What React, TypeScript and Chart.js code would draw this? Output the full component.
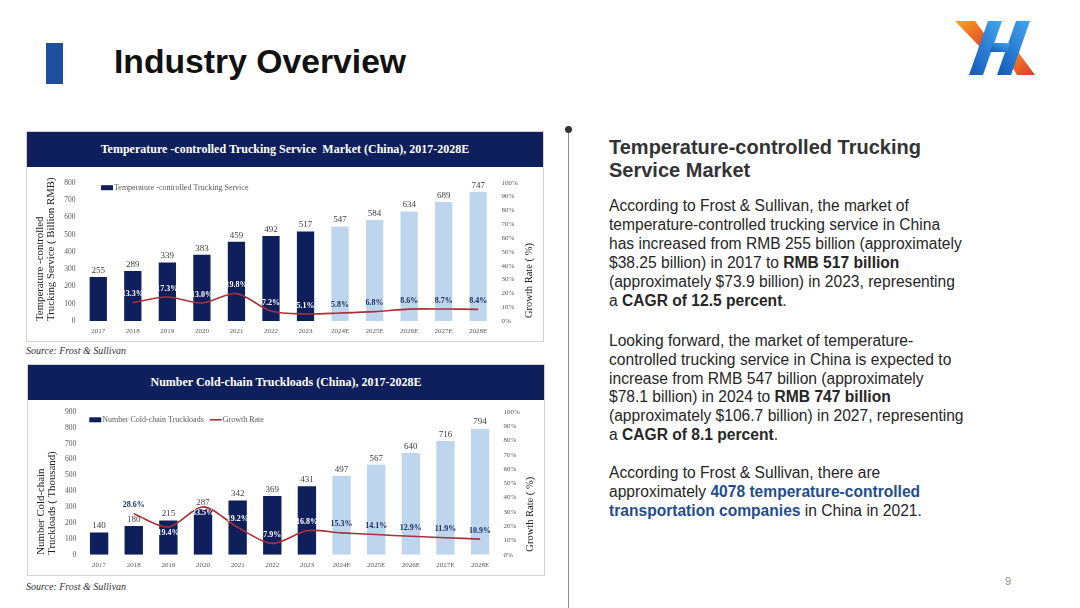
import React, { useEffect, useRef } from 'react';
import { Chart, registerables } from 'chart.js';

Chart.register(...registerables);

// ---------- DATA ----------
const YEARS = ['2017', '2018', '2019', '2020', '2021', '2022', '2023', '2024E', '2025E', '2026E', '2027E', '2028E'];
const MARKET_VALUES = [255, 289, 339, 383, 459, 492, 517, 547, 584, 634, 689, 747];
const MARKET_GROWTH = [null, 13.3, 17.3, 13.0, 19.8, 7.2, 5.1, 5.8, 6.8, 8.6, 8.7, 8.4];
const TRUCKLOAD_VALUES = [140, 180, 215, 287, 342, 369, 431, 497, 567, 640, 716, 794];
const TRUCKLOAD_GROWTH = [null, 28.6, 19.4, 33.5, 19.2, 7.9, 16.8, 15.3, 14.1, 12.9, 11.9, 10.9];
const MARKET_AXIS_MAX = 800;
const TRUCKLOAD_AXIS_MAX = 900;
const LEFT_AXIS_STEP = 100;
const RATE_AXIS_MAX = 100;
const RATE_AXIS_STEP = 10;

const SERIF = '"Liberation Serif", "Times New Roman", serif';
const SANS = '"Liberation Sans", Arial, Helvetica, sans-serif';
const NAVY = '#0E1F5C';
const LIGHT = '#BDD6EE';
const RED = '#A8323A';

type ChartCfg = {
  labels: string[];
  values: number[];
  growth: (number | null)[];
  barName: string;
  lineName: string;
  showLineLegend: boolean;
  yMax: number;
  yTitle: string[];
  leftW: number;
  rightW: number;
  padTop: number;
  xAxisH: number;
  barPct: number;
  legendDx: number;
  legendDy: number;
  belowLabels: string[];
};

const isForecast = (l: string) => l.endsWith('E');

function ComboChart({ cfg, width, height }: { cfg: ChartCfg; width: number; height: number }) {
  const ref = useRef<HTMLCanvasElement | null>(null);
  useEffect(() => {
    if (!ref.current) return;
    const overlay = {
      id: 'overlay',
      afterDatasetsDraw(chart: any) {
        const ctx = chart.ctx;
        const barMeta = chart.getDatasetMeta(0);
        const lineMeta = chart.getDatasetMeta(1);
        ctx.save();
        ctx.font = `9px ${SERIF}`;
        ctx.fillStyle = '#404040';
        ctx.textAlign = 'center';
        ctx.textBaseline = 'bottom';
        barMeta.data.forEach((el: any, i: number) => {
          ctx.fillText(String(cfg.values[i]), el.x, el.y - 2);
        });
        ctx.font = `bold 8px ${SERIF}`;
        ctx.textBaseline = 'middle';
        lineMeta.data.forEach((pt: any, i: number) => {
          const g = cfg.growth[i];
          if (g == null) return;
          const below = cfg.belowLabels.includes(cfg.labels[i]);
          const ly = below ? pt.y + 6 : pt.y - 8.5;
          const bar = barMeta.data[i];
          const inside = !isForecast(cfg.labels[i]) && ly > bar.y + 3;
          ctx.fillStyle = inside ? '#FFFFFF' : '#1B2A5E';
          ctx.fillText(g.toFixed(1) + '%', pt.x, ly);
        });
        ctx.restore();
      },
      afterDraw(chart: any) {
        const ctx = chart.ctx;
        const area = chart.chartArea;
        ctx.save();
        let x = area.left + cfg.legendDx;
        const y = area.top + cfg.legendDy;
        ctx.fillStyle = NAVY;
        ctx.fillRect(x, y - 2.5, 12, 5);
        x += 13;
        ctx.font = `8px ${SERIF}`;
        ctx.fillStyle = '#595959';
        ctx.textAlign = 'left';
        ctx.textBaseline = 'middle';
        ctx.fillText(cfg.barName, x, y);
        x += ctx.measureText(cfg.barName).width + 6;
        if (cfg.showLineLegend) {
          ctx.strokeStyle = RED;
          ctx.lineWidth = 1.6;
          ctx.beginPath();
          ctx.moveTo(x, y);
          ctx.lineTo(x + 12, y);
          ctx.stroke();
          ctx.fillText(cfg.lineName, x + 13, y);
        }
        ctx.translate(chart.width - 14.5, area.bottom - 3);
        ctx.rotate(-Math.PI / 2);
        ctx.font = `10.5px ${SERIF}`;
        ctx.fillStyle = '#222222';
        ctx.textAlign = 'left';
        ctx.textBaseline = 'middle';
        ctx.fillText('Growth Rate ( %)', 0, 0);
        ctx.restore();
      },
    };

    const tickFont = { family: SERIF, size: 7 };
    const chart = new Chart(ref.current, {
      type: 'bar',
      data: {
        labels: cfg.labels,
        datasets: [
          {
            type: 'bar',
            label: cfg.barName,
            data: cfg.values,
            backgroundColor: cfg.labels.map((l) => (isForecast(l) ? LIGHT : NAVY)),
            barPercentage: cfg.barPct,
            categoryPercentage: 1,
            yAxisID: 'y',
            order: 2,
          },
          {
            type: 'line',
            label: cfg.lineName,
            data: cfg.growth,
            borderColor: RED,
            borderWidth: 1.6,
            pointRadius: 0,
            tension: 0.3,
            yAxisID: 'y1',
            order: 1,
          },
        ],
      } as any,
      options: {
        responsive: false,
        animation: false,
        layout: { padding: { top: cfg.padTop, left: 0, right: 0, bottom: 0 } },
        plugins: { legend: { display: false }, tooltip: { enabled: false } },
        scales: {
          x: {
            grid: { display: false, drawTicks: false },
            border: { display: false },
            ticks: { font: tickFont, color: '#595959', padding: 6, autoSkip: false, maxRotation: 0 },
            afterFit: (s: any) => {
              s.height = cfg.xAxisH;
            },
          },
          y: {
            position: 'left',
            min: 0,
            max: cfg.yMax,
            ticks: { stepSize: LEFT_AXIS_STEP, font: { family: SERIF, size: 7.5 }, color: '#595959', padding: 5.5 },
            grid: { display: false, drawTicks: false },
            border: { display: false },
            title: {
              display: true,
              text: cfg.yTitle,
              align: 'start',
              color: '#222222',
              font: { family: SERIF, size: 10.8, lineHeight: 1.0 },
              padding: { top: 8, bottom: 0 },
            },
            afterFit: (s: any) => {
              s.width = cfg.leftW;
            },
          },
          y1: {
            position: 'right',
            min: 0,
            max: RATE_AXIS_MAX,
            ticks: {
              stepSize: RATE_AXIS_STEP,
              font: tickFont,
              color: '#595959',
              padding: 6,
              callback: (v: any) => v + '%',
            },
            grid: { display: false, drawTicks: false },
            border: { display: false },
            afterFit: (s: any) => {
              s.width = cfg.rightW;
            },
          },
        },
      } as any,
      plugins: [overlay],
    });
    return () => chart.destroy();
  }, [cfg]);
  return <canvas ref={ref} width={width} height={height} style={{ display: 'block', width, height }} />;
}

const marketCfg: ChartCfg = {
  labels: YEARS,
  values: MARKET_VALUES,
  growth: MARKET_GROWTH,
  barName: 'Temperature -controlled Trucking Service',
  lineName: 'Growth Rate',
  showLineLegend: false,
  yMax: MARKET_AXIS_MAX,
  yTitle: ['Temperature -controlled', 'Trucking Service ( Billion RMB)'],
  leftW: 54,
  rightW: 48.5,
  padTop: 15.7,
  xAxisH: 21,
  barPct: 0.5,
  legendDx: 20,
  legendDy: 5,
  belowLabels: [],
};

const truckCfg: ChartCfg = {
  labels: YEARS,
  values: TRUCKLOAD_VALUES,
  growth: TRUCKLOAD_GROWTH,
  barName: 'Number Cold-chain Truckloads',
  lineName: 'Growth Rate',
  showLineLegend: true,
  yMax: TRUCKLOAD_AXIS_MAX,
  yTitle: ['Number Cold-chain', 'Truckloads ( Thousand)'],
  leftW: 53.8,
  rightW: 47.6,
  padTop: 11.8,
  xAxisH: 21.3,
  barPct: 0.53,
  legendDx: 7.5,
  legendDy: 8,
  belowLabels: ['2019', '2020'],
};

function ChartBox({ left, top, width, height, title, cfg }: any) {
  return (
    <div
      style={{
        position: 'absolute',
        left,
        top,
        width,
        height,
        border: '1px solid #D3D3D3',
        boxSizing: 'border-box',
        background: '#fff',
      }}
    >
      <div
        style={{
          height: 35,
          background: NAVY,
          color: '#fff',
          fontFamily: SERIF,
          fontWeight: 'bold',
          fontSize: 12,
          lineHeight: '35px',
          textAlign: 'center',
          whiteSpace: 'pre',
        }}
      >
        {title}
      </div>
      <ComboChart cfg={cfg} width={width - 1} height={height - 36} />
    </div>
  );
}

function Logo() {
  return (
    <svg style={{ position: 'absolute', left: 955, top: 19 }} width={80} height={57} viewBox="0 0 80 57">
      <defs>
        <linearGradient id="lgBlue" x1="0" y1="1" x2="1" y2="0">
          <stop offset="0" stopColor="#1258B8" />
          <stop offset="1" stopColor="#45A6EE" />
        </linearGradient>
        <linearGradient id="lgOrange" x1="0" y1="0" x2="1" y2="1">
          <stop offset="0" stopColor="#F6A623" />
          <stop offset="1" stopColor="#E2332A" />
        </linearGradient>
      </defs>
      <polygon points="0,2 20,2 37,25 27,30" fill="url(#lgOrange)" />
      <polygon points="50,36 60,29 80,56 62,56" fill="url(#lgOrange)" />
      <polygon points="14,56 28,56 47,2 33,2" fill="url(#lgBlue)" />
      <polygon points="42,56 56,56 75,2 61,2" fill="url(#lgBlue)" />
      <polygon points="38,24 55,24 52,33 35,33" fill="url(#lgBlue)" />
    </svg>
  );
}

const bodyText: React.CSSProperties = {
  position: 'absolute',
  left: 609,
  fontFamily: SANS,
  fontSize: 15.6,
  lineHeight: '18.9px',
  color: '#262626',
  whiteSpace: 'nowrap',
};
const blue: React.CSSProperties = { color: '#1F4E8F', fontWeight: 'bold' };

export default function App() {
  return (
    <div
      style={{
        position: 'fixed',
        left: 0,
        top: 0,
        width: 1080,
        height: 608,
        background: '#FFFFFF',
        overflow: 'hidden',
      }}
    >
      <div style={{ position: 'absolute', left: 46, top: 43, width: 17, height: 41, background: '#1F4E9E' }} />
      <div
        style={{
          position: 'absolute',
          left: 114,
          top: 45,
          fontFamily: SANS,
          fontWeight: 'bold',
          fontSize: 33.7,
          lineHeight: '33.7px',
          color: '#111',
          whiteSpace: 'nowrap',
        }}
      >
        Industry Overview
      </div>
      <Logo />

      <ChartBox
        left={26}
        top={131}
        width={518}
        height={211}
        title={'Temperature -controlled Trucking Service  Market (China), 2017-2028E'}
        cfg={marketCfg}
      />
      <div style={{ position: 'absolute', left: 26, top: 345, fontFamily: SERIF, fontStyle: 'italic', fontSize: 10, lineHeight: '12px', color: '#333' }}>
        Source: Frost &amp; Sullivan
      </div>
      <ChartBox
        left={27}
        top={364}
        width={518}
        height={212}
        title={'Number Cold-chain Truckloads (China), 2017-2028E'}
        cfg={truckCfg}
      />
      <div style={{ position: 'absolute', left: 26, top: 581, fontFamily: SERIF, fontStyle: 'italic', fontSize: 10, lineHeight: '12px', color: '#333' }}>
        Source: Frost &amp; Sullivan
      </div>

      <div style={{ position: 'absolute', left: 567.6, top: 129, width: 1.4, height: 480, background: '#8A8A8A' }} />
      <div style={{ position: 'absolute', left: 565, top: 126, width: 7, height: 7, borderRadius: '50%', background: '#333' }} />

      <div
        style={{
          position: 'absolute',
          left: 609,
          top: 135.7,
          fontFamily: SANS,
          fontWeight: 'bold',
          fontSize: 20,
          lineHeight: '23.3px',
          color: '#333',
          whiteSpace: 'nowrap',
        }}
      >
        Temperature-controlled Trucking
        <br />
        Service Market
      </div>
      <div style={{ ...bodyText, top: 197.4 }}>
        According to Frost &amp; Sullivan, the market of
        <br />
        temperature-controlled trucking service in China
        <br />
        has increased from RMB 255 billion (approximately
        <br />
        $38.25 billion) in 2017 to <b>RMB 517 billion</b>
        <br />
        (approximately $73.9 billion) in 2023, representing
        <br />
        a <b>CAGR of 12.5 percent</b>.
      </div>
      <div style={{ ...bodyText, top: 331.7 }}>
        Looking forward, the market of temperature-
        <br />
        controlled trucking service in China is expected to
        <br />
        increase from RMB 547 billion (approximately
        <br />
        $78.1 billion) in 2024 to <b>RMB 747 billion</b>
        <br />
        (approximately $106.7 billion) in 2027, representing
        <br />
        a <b>CAGR of 8.1 percent</b>.
      </div>
      <div style={{ ...bodyText, top: 464 }}>
        According to Frost &amp; Sullivan, there are
        <br />
        approximately <span style={blue}>4078 temperature-controlled</span>
        <br />
        <span style={blue}>transportation companies</span> in China in 2021.
      </div>

      <div style={{ position: 'absolute', left: 1005, top: 574, fontFamily: SANS, fontSize: 11, lineHeight: '14px', color: '#8C8C8C' }}>9</div>
    </div>
  );
}
